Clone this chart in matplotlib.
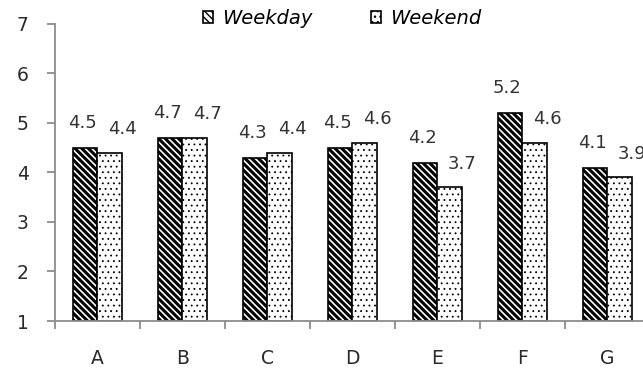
import numpy as np
import matplotlib
matplotlib.use("Agg")
import matplotlib.pyplot as plt

categories = ["A", "B", "C", "D", "E", "F", "G"]
weekday = [4.5, 4.7, 4.3, 4.5, 4.2, 5.2, 4.1]
weekend = [4.4, 4.7, 4.4, 4.6, 3.7, 4.6, 3.9]

AXIS = "#8c8c8c"
TXT = "#2a2a2a"
plt.rcParams["font.family"] = "DejaVu Sans"

fig = plt.figure(figsize=(6.43, 3.70), dpi=100)
# right edge runs past the figure, so the last group is cut a little
ax = fig.add_axes([0.0855, 0.1324, 0.925, 0.803])

x = np.arange(len(categories))
w = 0.29
with plt.rc_context({"hatch.linewidth": 2.2}):
    b1 = ax.bar(x - w / 2, np.array(weekday) - 1, w, bottom=1, color="white",
                edgecolor="black", hatch="\\" * 5, linewidth=1.2,
                label="Weekday")
with plt.rc_context({"hatch.linewidth": 0.6}):
    b2 = ax.bar(x + w / 2, np.array(weekend) - 1, w, bottom=1, color="white",
                edgecolor="black", hatch="...", linewidth=1.2,
                label="Weekend")
for bars, lw in ((b1, 2.2), (b2, 0.6)):
    for b in bars:
        if hasattr(b, "set_hatch_linewidth"):
            b.set_hatch_linewidth(lw)

for bars, vals, dx, dy in ((b1, weekday, -2, 18), (b2, weekend, 9, 17)):
    for b, v in zip(bars, vals):
        ax.annotate(f"{v:.1f}", (b.get_x() + b.get_width() / 2, v),
                    xytext=(dx, dy), textcoords="offset points",
                    ha="center", va="center", fontsize=13, color="#333333")

ax.set_xlim(-0.5, len(categories) - 0.5)
ax.set_ylim(1, 7)
ax.set_yticks(range(1, 8))
ax.set_xticks(np.arange(len(categories) + 1) - 0.5)
ax.set_xticklabels([])
ax.set_xticks(x, minor=True)
ax.set_xticklabels(categories, minor=True)
ax.tick_params(axis="x", which="major", length=6, color=AXIS, width=1.3)
ax.tick_params(axis="x", which="minor", length=0, pad=20, labelsize=13.5,
               labelcolor=TXT)
ax.tick_params(axis="y", length=6, color=AXIS, width=1.3, pad=13,
               labelsize=13.5, labelcolor=TXT)

for s in ("top", "right"):
    ax.spines[s].set_visible(False)
for s in ("left", "bottom"):
    ax.spines[s].set_color(AXIS)
    ax.spines[s].set_linewidth(1.3)

fig.legend(handles=[b1, b2], loc="center", bbox_to_anchor=(0.532, 0.951),
           ncol=2, frameon=False, handlelength=0.55, handleheight=0.55,
           columnspacing=3.0, handletextpad=0.45,
           prop={"style": "italic", "size": 14})

fig.savefig("out.png", dpi=100)
